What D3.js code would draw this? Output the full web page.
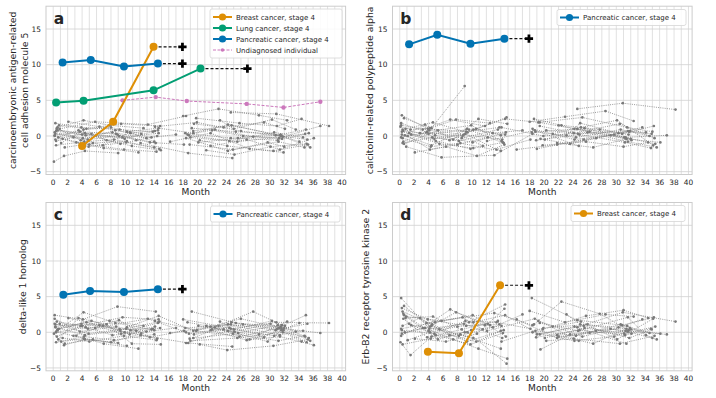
<!DOCTYPE html>
<html>
<head>
<meta charset="utf-8">
<script src="https://cdn.jsdelivr.net/npm/d3@7"></script>
<style>
  body { margin: 0; background: #fff; }
  svg text { font-family: "DejaVu Sans", sans-serif; fill: #262626; }
</style>
</head>
<body>
<div id="chart"></div>
<script>
// visit months of the undiagnosed individuals (same people in every panel)
const visitMonths = [
  [0.2, 4.1, 8.9, 14.2], [0.3, 3.9, 9.2, 13.8], [0.4, 4.3, 8.4, 14.0], [0.5, 4.0, 9.6, 14.6],
  [0.1, 1.5, 4.4, 9.0], [0.6, 4.2, 7.8, 12.5], [1.3, 5.0, 9.8, 14.3], [0.2, 3.7, 8.7, 11.5],
  [0.8, 4.6, 9.4, 14.8], [1.6, 5.5, 10.2], [0.3, 4.8, 9.1, 13.4, 18.1], [2.1, 6.4, 10.7, 14.5],
  [3.2, 7.0, 11.8], [0.4, 4.5, 8.2, 12.9, 17.0], [0.7, 3.5, 7.4, 10.9, 14.9],
  [18.3, 24.6, 30.8, 35.2], [18.9, 24.9, 31.2, 34.8], [19.2, 25.3, 31.5, 35.0], [19.8, 25.8, 31.0, 34.4],
  [20.3, 24.1, 30.5, 35.3], [18.6, 22.4, 27.7, 31.7], [19.5, 23.6, 29.2, 32.1], [21.2, 25.1, 30.1, 35.1],
  [22.0, 26.3, 31.3, 37.0], [24.6, 30.9, 38.2], [18.0, 22.9, 28.5, 32.4], [19.0, 25.5, 31.8, 34.9],
  [10.2, 14.6, 19.4, 24.2, 31.4], [12.1, 18.7, 24.8], [14.1, 19.9, 26.0, 31.6, 35.6],
  [16.2, 21.8, 27.2, 31.9], [0.9, 5.8, 13.1, 18.4],
  [0.3, 4.4, 9.3, 14.4], [0.5, 3.8, 8.6, 13.6], [0.2, 4.9, 10.1, 14.7], [1.1, 4.2, 8.0, 12.2],
  [0.6, 5.3, 9.9, 14.1], [0.4, 2.8, 6.9, 10.6, 14.0], [18.8, 24.4, 30.6, 34.6], [20.1, 25.6, 31.1, 35.4],
  [19.4, 24.7, 31.6, 34.1], [21.8, 26.8, 31.4, 36.1], [23.1, 25.0, 30.3, 33.6], [18.4, 24.2, 29.7, 32.0]
];

const grayA = [
  [0.5, -0.3, 0.2, -1.0], [1.8, 1.2, 0.9, 0.6], [-1.3, -0.8, -0.5, -1.6], [0.9, 0.2, -0.2, 0.4],
  [-3.6, -2.8, -2.1, -2.4], [1.2, 2.2, 1.5, 1.1], [-0.4, -1.2, -1.9, -2.2], [0.1, 0.6, 0.3, -0.6],
  [1.5, 1.0, 1.7, 1.4], [-1.6, -1.0, -0.7], [0.3, -0.5, 0.0, -0.9, -1.2], [2.0, 1.3, 0.4, 0.8],
  [-0.9, -1.7, -2.3], [0.7, 0.1, 0.5, -0.3, 0.2], [-0.2, 0.8, -0.6, -1.4, -2.0],
  [0.4, -0.3, 0.1, -0.5], [-1.2, -1.9, -0.8, -1.6], [1.1, 0.6, 0.2, 0.9], [2.5, 1.8, 1.4, 2.4],
  [-0.6, -1.4, -2.1, -1.2], [0.2, 0.9, -0.1, -0.4], [1.7, 1.2, 1.9, 1.0], [-2.0, -2.6, -1.5, -1.1],
  [0.8, 0.0, -0.3, 1.4], [3.3, 3.1, 1.4], [2.8, 3.8, 2.9, 2.2], [-0.2, -0.8, -0.1, 0.3],
  [0.6, 1.1, 0.4, 1.6, 0.1], [-1.0, -2.4, -3.1], [1.3, 1.9, 0.7, 0.0, -1.6],
  [-0.8, 0.4, -1.8, -2.3], [1.0, 2.0, 1.6, 2.8],
  [-0.5, 0.4, -1.1, 0.0], [1.1, -0.6, 0.8, -0.2], [0.0, -1.5, -0.9, -1.8], [-1.0, 0.9, 1.2, 0.3],
  [0.8, 0.3, -0.4, 0.7], [-0.7, -0.2, -1.3, 0.5, -0.8], [0.1, -0.7, 0.5, -0.2], [-0.9, -0.3, -0.6, 0.4],
  [0.7, 1.5, 0.0, -0.8], [-1.4, -0.5, -1.9, -0.3], [2.2, 1.0, 2.3, 0.9], [-0.3, -2.1, -0.9, -1.5]
];
const grayB = [
  [1.5, 0.8, 0.2, -0.5], [2.9, 1.0, 0.6, 1.2], [-0.3, -1.5, -1.0, -2.1], [0.7, 0.3, 0.9, 0.2],
  [1.3, 0.9, 1.1, 7.0], [2.5, 1.1, 2.3, 1.8], [0.4, -0.7, -1.8, -0.9], [-0.2, 0.5, 0.0, -1.4],
  [1.0, 1.9, 0.5, 2.6], [0.2, -1.1, -1.7], [0.6, -0.4, 0.3, -1.9, -0.5], [-2.3, -1.5, -2.8, -1.2],
  [0.9, 2.3, 1.4], [-1.0, -0.2, -0.7, 0.4, 0.8], [0.1, 1.6, -0.5, 2.4, 1.7],
  [0.5, 1.0, 0.3, 1.4], [-0.6, 0.2, -0.9, -1.7], [1.9, 2.6, 1.2, 0.6], [-1.3, -0.8, -1.5, -0.9],
  [0.8, 0.4, 1.7, -0.3], [2.4, 1.5, 0.9, 0.2], [-0.4, -1.1, 0.1, -0.6], [0.3, 1.2, 2.2, -1.3],
  [1.5, 0.6, -0.2, 0.1], [3.8, 4.6, 3.7], [2.0, 2.7, 3.5, 2.1], [-1.8, -0.5, 0.6, 0.3],
  [0.9, 2.4, 1.9, 1.0, -0.4], [-0.7, 0.8, -1.4], [1.2, 0.0, 0.5, -0.8, -1.6],
  [-1.9, -1.2, -0.3, 0.7], [-1.5, -3.0, -2.7, 0.3],
  [0.2, -1.3, 1.0, -1.0], [-0.8, 0.6, -0.3, 0.9], [1.8, 0.1, -0.9, 0.5], [0.0, -1.9, -1.2, -0.2],
  [-1.1, 0.8, 1.5, -0.7], [0.9, 0.4, -0.6, 1.0, 0.1], [0.6, -0.2, 0.9, 0.0], [-0.5, 1.1, -0.2, -1.1],
  [1.4, 0.3, 0.7, 0.5], [-1.0, -1.6, -0.4, -0.9], [0.1, 1.8, 0.4, 1.2], [1.0, -0.5, 0.2, -0.4]
];
const grayC = [
  [2.4, 1.8, 3.6, 2.9], [0.8, 1.2, 0.4, 0.5], [-1.4, -0.6, -1.1, -0.3], [1.5, 0.9, 2.1, 1.8],
  [-0.2, -1.8, -1.0, -1.5], [0.3, 2.8, 1.6, 0.9], [-0.8, -1.3, -0.5, -1.1], [1.9, 0.1, 0.8, 0.2],
  [0.5, 1.4, -0.2, 0.6], [-1.6, -1.0, -1.9], [1.1, 0.5, 1.7, -0.7, 0.2], [2.0, 1.0, 0.3, 1.3],
  [-0.5, -1.6, -2.3], [0.0, 0.7, -0.4, 0.1, 0.6], [-1.0, 2.0, 1.1, -1.6, -1.7],
  [0.6, 1.1, 0.3, 1.2], [-0.9, -0.2, -1.2, -0.5], [2.9, 1.3, 0.8, 2.4], [0.2, -0.6, 0.5, -1.3],
  [-1.7, -2.5, -1.9, -1.0], [1.4, 0.7, 2.9, 1.0], [-0.3, 0.4, -0.7, 0.9], [0.9, 0.1, 1.2, -1.4],
  [0.4, 1.1, 0.6, -0.1], [0.5, 1.4, 1.3], [1.8, 0.9, -0.3, 1.5], [-1.2, -0.8, 0.0, -0.6],
  [0.7, 2.3, 0.2, 1.1, -0.4], [-0.4, -1.5, -2.0], [1.6, 0.3, 1.9, 0.6, -1.2],
  [-0.1, 0.8, -1.0, 0.3], [1.2, 0.6, 1.9, 0.0],
  [0.7, -0.4, 0.2, -0.9], [-0.6, 0.9, 1.3, 0.4], [1.2, -0.2, 0.5, 1.5], [-1.3, -0.9, -1.4, -0.2],
  [0.4, 1.6, 0.0, 0.8], [0.1, -0.5, 0.9, -0.3, 0.3], [-0.2, 0.6, -0.5, 0.2], [0.9, -0.1, 1.0, -0.8],
  [-0.8, 1.4, 0.3, 1.3], [0.3, -1.1, -0.6, -1.8], [1.5, 0.4, 1.6, 0.1], [-1.5, 0.2, -1.3, 0.6]
];
const grayD = [
  [4.8, 0.5, 1.2, -0.8], [3.4, 1.8, 0.9, 1.1], [-1.7, -0.9, -0.3, -2.3], [2.6, 0.2, 1.4, 3.9],
  [-1.4, -3.2, -0.6, 0.0], [3.7, 0.8, 2.8, 1.0], [1.2, -0.4, -1.7, -0.1], [-0.5, 1.3, 2.1, 0.4],
  [2.0, 2.2, 0.0, -4.4], [1.0, 0.4, -0.8], [0.3, -0.2, 1.6, 1.4, 0.5], [-0.9, -1.3, -0.2, 3.3],
  [0.6, 3.2, 1.0], [2.9, 1.1, -0.5, 0.7, 2.5], [0.0, 0.6, -1.0, -2.3, -3.7],
  [4.8, 1.7, 1.0, 2.1], [-0.7, 0.3, -0.4, 0.5], [1.6, -0.6, 0.9, -0.8], [0.4, 2.3, 3.1, 2.0],
  [-1.2, -0.9, -1.6, -0.5], [1.1, 4.3, 2.6, 0.3], [-2.4, -0.3, 0.5, -0.2], [0.8, 1.5, -1.0, 1.9],
  [-0.6, -0.1, 0.2, -0.3], [0.7, 2.8, 1.5], [3.0, 1.4, 2.5, 2.2], [-0.3, 0.9, -0.8, 0.4],
  [1.4, 2.4, -0.3, 0.8, -1.6], [0.2, 1.9, -1.2], [-1.3, 0.6, 1.1, 0.1, -1.0],
  [1.8, -0.8, 0.2, 0.6], [2.2, 1.6, 2.7, 1.0],
  [-0.2, 0.9, -1.3, 0.3], [1.9, -0.7, 0.4, 1.6], [0.5, 1.4, 2.4, -0.6], [-1.1, 0.0, 0.8, 1.2],
  [2.4, -1.0, 0.3, 0.9], [0.9, 2.0, -0.4, -1.3, 0.2], [0.2, -0.5, 1.1, -0.1], [-0.8, 0.6, -0.2, 0.8],
  [1.3, 0.2, 2.1, -0.4], [-0.4, -1.6, 0.5, -0.2], [2.5, 1.1, 0.7, 1.8], [0.0, -1.2, -0.6, 0.4]
];

// highlighted individuals: months, values, month of diagnosis (cross)
const breastA = { months: [4.0, 8.3, 13.9], values: [-1.4, 2.0, 12.5], diag: 17.9 };
const lungA = { months: [0.4, 4.2, 13.9, 20.4], values: [4.7, 4.95, 6.4, 9.45], diag: 26.9 };
const pancA = { months: [1.3, 5.2, 9.8, 14.5], values: [10.3, 10.65, 9.75, 10.15], diag: 17.9 };
const undiagA = { months: [9.6, 14.2, 18.5, 26.8, 31.9, 37.0], values: [5.0, 5.45, 4.9, 4.5, 4.0, 4.8] };
const pancB = { months: [1.3, 5.2, 9.8, 14.5], values: [12.85, 14.2, 12.95, 13.65], diag: 17.9 };
const pancC = { months: [1.4, 5.1, 9.8, 14.5], values: [5.25, 5.8, 5.65, 6.05], diag: 17.9 };
const breastD = { months: [3.9, 8.2, 13.9], values: [-2.72, -2.95, 6.59], diag: 17.9 };

const xTicks = d3.range(0, 41, 2);
const yTicks = [-5, 0, 5, 10, 15];

const colors = { breast: "#de8f05", lung: "#029e73", panc: "#0173b2", undiag: "#cc78bc" };

const panels = [
  { letter: "a", ylabel: ["carcinoembryonic antigen-related", "cell adhesion molecule 5"],
    gray: grayA, x0: 46, y0: 6.2, ylabX: 12.5,
    series: [{ d: breastA, c: colors.breast, name: "Breast cancer, stage 4" },
             { d: lungA, c: colors.lung, name: "Lung cancer, stage 4" },
             { d: pancA, c: colors.panc, name: "Pancreatic cancer, stage 4" }],
    undiag: undiagA, legend: { x: 210, y: 9, w: 132 } },
  { letter: "b", ylabel: ["calcitonin-related polypeptide alpha"],
    gray: grayB, x0: 392.5, y0: 6.2, ylabX: 370,
    series: [{ d: pancB, c: colors.panc, name: "Pancreatic cancer, stage 4" }],
    legend: { x: 557, y: 9.5, w: 129 } },
  { letter: "c", ylabel: ["delta-like 1 homolog"],
    gray: grayC, x0: 46, y0: 202.5, ylabX: 23,
    series: [{ d: pancC, c: colors.panc, name: "Pancreatic cancer, stage 4" }],
    legend: { x: 210.5, y: 206, w: 129.5 } },
  { letter: "d", ylabel: ["Erb-B2 receptor tyrosine kinase 2"],
    gray: grayD, x0: 392.5, y0: 202.5, ylabX: 366,
    series: [{ d: breastD, c: colors.breast, name: "Breast cancer, stage 4" }],
    legend: { x: 571, y: 205.5, w: 114 } }
];

const W = 716, H = 398;
const pw = 299.6, ph = 168.3;

const svg = d3.select("#chart").append("svg")
  .attr("width", W).attr("height", H);

const cross = d3.symbol().type(d3.symbolCross).size(38);

panels.forEach(p => {
  const x = d3.scaleLinear().domain([-1, 40.5]).range([p.x0, p.x0 + pw]);
  const y = d3.scaleLinear().domain([-5.4, 18.2]).range([p.y0 + ph, p.y0]);
  const g = svg.append("g");

  // grid
  g.selectAll(".vg").data(d3.range(0, 41)).enter().append("line")
    .attr("x1", d => x(d)).attr("x2", d => x(d))
    .attr("y1", p.y0).attr("y2", p.y0 + ph)
    .attr("stroke", "#d9d9d9").attr("stroke-width", 0.8);
  g.selectAll(".hg").data(yTicks).enter().append("line")
    .attr("x1", p.x0).attr("x2", p.x0 + pw)
    .attr("y1", d => y(d)).attr("y2", d => y(d))
    .attr("stroke", "#d0d0d0").attr("stroke-width", 0.8);
  g.append("rect").attr("x", p.x0).attr("y", p.y0).attr("width", pw).attr("height", ph)
    .attr("fill", "none").attr("stroke", "#cccccc").attr("stroke-width", 1);

  // tick labels
  g.selectAll(".xt").data(xTicks).enter().append("text")
    .attr("x", d => x(d)).attr("y", p.y0 + ph + 10.2)
    .attr("text-anchor", "middle").attr("font-size", 7.4).text(d => d);
  g.selectAll(".yt").data(yTicks).enter().append("text")
    .attr("x", p.x0 - 5).attr("y", d => y(d) + 2.7)
    .attr("text-anchor", "end").attr("font-size", 7.4).text(d => d < 0 ? "\u2212" + Math.abs(d) : d);

  g.append("text").attr("x", p.x0 + pw / 2).attr("y", p.y0 + ph + 20.2)
    .attr("text-anchor", "middle").attr("font-size", 9.1).text("Month");

  const yl = g.append("text").attr("font-size", 9.3).attr("text-anchor", "middle")
    .attr("transform", `translate(${p.ylabX},${p.y0 + ph / 2}) rotate(-90)`);
  p.ylabel.forEach((t, i) => yl.append("tspan").attr("x", 0).attr("dy", i === 0 ? 3.2 : 12).text(t));

  // undiagnosed grey individuals
  const line = d3.line().x(d => x(d[0])).y(d => y(d[1]));
  const grays = visitMonths.map((m, i) => m.map((t, j) => [t, p.gray[i][j]]));
  g.selectAll(".gl").data(grays).enter().append("path")
    .attr("d", line).attr("fill", "none")
    .attr("stroke", "#808080").attr("stroke-width", 0.8).attr("stroke-dasharray", "1,1.2");
  g.selectAll(".gp").data(grays.flat()).enter().append("circle")
    .attr("cx", d => x(d[0])).attr("cy", d => y(d[1])).attr("r", 1.35)
    .attr("fill", "#7a7a7a");

  if (p.undiag) {
    const u = p.undiag.months.map((t, j) => [t, p.undiag.values[j]]);
    g.append("path").attr("d", line(u)).attr("fill", "none")
      .attr("stroke", colors.undiag).attr("stroke-width", 1).attr("stroke-dasharray", "3,1.5");
    g.selectAll(".up").data(u).enter().append("circle")
      .attr("cx", d => x(d[0])).attr("cy", d => y(d[1])).attr("r", 2.2).attr("fill", colors.undiag);
  }

  // highlighted patients
  p.series.forEach(s => {
    const pts = s.d.months.map((t, j) => [t, s.d.values[j]]);
    const last = pts[pts.length - 1];
    g.append("path").attr("d", line([last, [s.d.diag, last[1]]])).attr("fill", "none")
      .attr("stroke", "#111").attr("stroke-width", 1.1).attr("stroke-dasharray", "3,2");
    g.append("path").attr("transform", `translate(${x(s.d.diag)},${y(last[1])})`)
      .attr("d", cross()).attr("fill", "#000");
  });
  p.series.forEach(s => {
    const pts = s.d.months.map((t, j) => [t, s.d.values[j]]);
    g.append("path").attr("d", line(pts)).attr("fill", "none")
      .attr("stroke", s.c).attr("stroke-width", 2);
    g.selectAll(null).data(pts).enter().append("circle")
      .attr("cx", d => x(d[0])).attr("cy", d => y(d[1])).attr("r", 4).attr("fill", s.c);
  });

  // panel letter
  g.append("text").attr("x", x(0) + 0.5).attr("y", p.y0 + 17.5)
    .attr("font-size", 15.5).attr("font-weight", "bold").attr("fill", "#000").text(p.letter);

  // legend
  const items = p.series.map(s => ({ c: s.c, name: s.name, dash: false }));
  if (p.undiag) items.push({ c: colors.undiag, name: "Undiagnosed individual", dash: true });
  const lg = g.append("g").attr("transform", `translate(${p.legend.x},${p.legend.y})`);
  lg.append("rect").attr("width", p.legend.w).attr("height", 5 + items.length * 11)
    .attr("rx", 2).attr("fill", "#fff").attr("fill-opacity", 0.85)
    .attr("stroke", "#d6d6d6").attr("stroke-width", 0.8);
  items.forEach((it, i) => {
    const cy = 8 + i * 11;
    lg.append("line").attr("x1", 3).attr("x2", 22).attr("y1", cy).attr("y2", cy)
      .attr("stroke", it.c).attr("stroke-width", it.dash ? 1 : 2)
      .attr("stroke-dasharray", it.dash ? "3,1.5" : null);
    lg.append("circle").attr("cx", 12.5).attr("cy", cy).attr("r", it.dash ? 1.8 : 3.6).attr("fill", it.c);
    lg.append("text").attr("x", 26).attr("y", cy + 2.5).attr("font-size", 7)
      .attr("fill", "#333").text(it.name);
  });
});
</script>
</body>
</html>
